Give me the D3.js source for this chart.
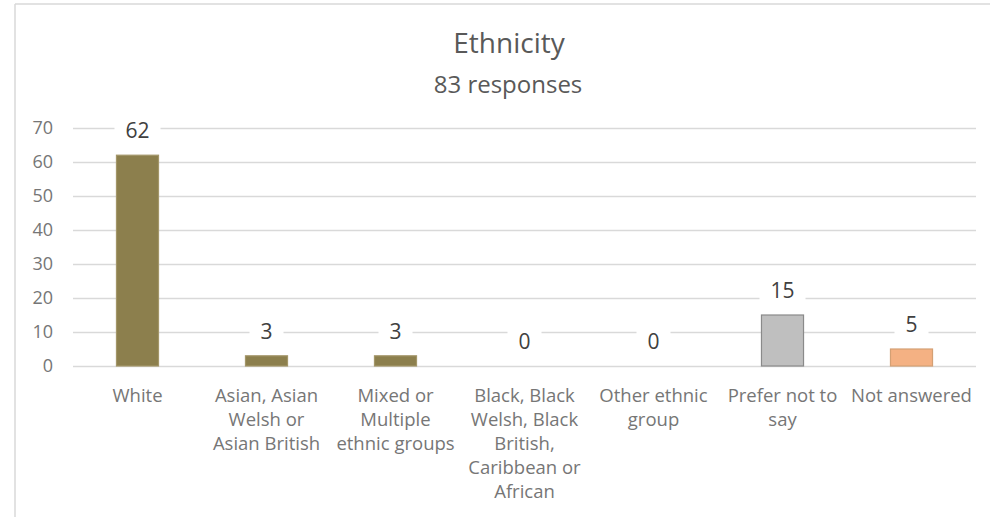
<!DOCTYPE html>
<html>
<head>
<meta charset="utf-8">
<script src="https://cdn.jsdelivr.net/npm/d3@7"></script>
<style>
  html, body { margin: 0; padding: 0; background: #fff; }
  svg { display: block; font-family: "Open Sans", sans-serif; }
</style>
</head>
<body>
<svg id="chart" width="1000" height="517"></svg>
<script>
const title = "Ethnicity";
const subtitle = "83 responses";
const categories = ["White", "Asian, Asian Welsh or Asian British", "Mixed or Multiple ethnic groups",
  "Black, Black Welsh, Black British, Caribbean or African", "Other ethnic group", "Prefer not to say", "Not answered"];
const categoryLines = [
  ["White"],
  ["Asian, Asian", "Welsh or", "Asian British"],
  ["Mixed or", "Multiple", "ethnic groups"],
  ["Black, Black", "Welsh, Black", "British,", "Caribbean or", "African"],
  ["Other ethnic", "group"],
  ["Prefer not to", "say"],
  ["Not answered"]
];
const values = [62, 3, 3, 0, 0, 15, 5];
const yTicks = [0, 10, 20, 30, 40, 50, 60, 70];
const barFills = ["#8c7f4d", "#8c7f4d", "#8c7f4d", "#8c7f4d", "#8c7f4d", "#bfbfbf", "#f4b183"];
const barStrokes = ["#a39669", "#a39669", "#a39669", "#a39669", "#a39669", "#8a8a8a", "#d4a074"];

const svg = d3.select("#chart");
const plotLeft = 73, plotRight = 976, plotTop = 128, plotBottom = 366;

// frame
svg.append("line").attr("x1", 15).attr("x2", 15).attr("y1", 4).attr("y2", 517)
  .attr("stroke", "#d9d9d9").attr("stroke-width", 1.5);
svg.append("line").attr("x1", 15).attr("x2", 990).attr("y1", 4).attr("y2", 4)
  .attr("stroke", "#d9d9d9").attr("stroke-width", 1.5);

const x = d3.scaleBand().domain(categories).range([plotLeft, plotRight]).paddingInner(0.674).paddingOuter(0.337);
const y = d3.scaleLinear().domain([0, 70]).range([plotBottom, plotTop]);

// titles
svg.append("text").attr("x", 509).attr("y", 53).attr("text-anchor", "middle")
  .attr("font-size", 28).attr("fill", "#595959").text(title);
svg.append("text").attr("x", 508).attr("y", 93).attr("text-anchor", "middle")
  .attr("font-size", 24).attr("fill", "#595959").text(subtitle);

// gridlines + y labels
const yAxis = d3.axisLeft(y).tickValues(yTicks).tickSize(-(plotRight - plotLeft)).tickPadding(20);
const gy = svg.append("g").attr("transform", `translate(${plotLeft},0)`).call(yAxis);
gy.select(".domain").remove();
gy.selectAll(".tick line").attr("stroke", "#d9d9d9").attr("stroke-width", 1.5);
gy.selectAll(".tick text").attr("fill", "#767676").attr("font-size", 18)
  .attr("font-family", "'Open Sans', sans-serif").attr("x", -20);

// x labels
const xAxis = d3.axisBottom(x).tickSize(0).tickFormat("");
const gx = svg.append("g").attr("transform", `translate(0,${plotBottom})`).call(xAxis);
gx.select(".domain").remove();
gx.selectAll(".tick").each(function(d, i) {
  const t = d3.select(this).append("text").attr("text-anchor", "middle")
    .attr("fill", "#767676").attr("font-size", 18.5).attr("font-family", "'Open Sans', sans-serif");
  categoryLines[i].forEach((ln, j) => {
    t.append("tspan").attr("x", 0).attr("y", 36 + j * 24).text(ln);
  });
});

// bars
svg.append("g").selectAll("rect").data(values).join("rect")
  .attr("x", (d, i) => x(categories[i]))
  .attr("width", x.bandwidth())
  .attr("y", d => y(d))
  .attr("height", d => y(0) - y(d))
  .attr("fill", (d, i) => barFills[i])
  .attr("stroke", (d, i) => barStrokes[i])
  .attr("stroke-width", d => d > 0 ? 1.2 : 0);

// data labels with white boxes
const lg = svg.append("g");
values.forEach((v, i) => {
  const cx = x(categories[i]) + x.bandwidth() / 2;
  const base = y(v) - 17;
  const g = lg.append("g");
  const r = g.append("rect").attr("fill", "#fff");
  const t = g.append("text").attr("x", cx).attr("y", base).attr("text-anchor", "middle")
    .attr("font-size", 21).attr("fill", "#404040").text(v);
  const w = t.node().getComputedTextLength();
  r.attr("x", cx - w / 2 - 11).attr("width", w + 22).attr("y", base - 20).attr("height", 25);
});
</script>
</body>
</html>
